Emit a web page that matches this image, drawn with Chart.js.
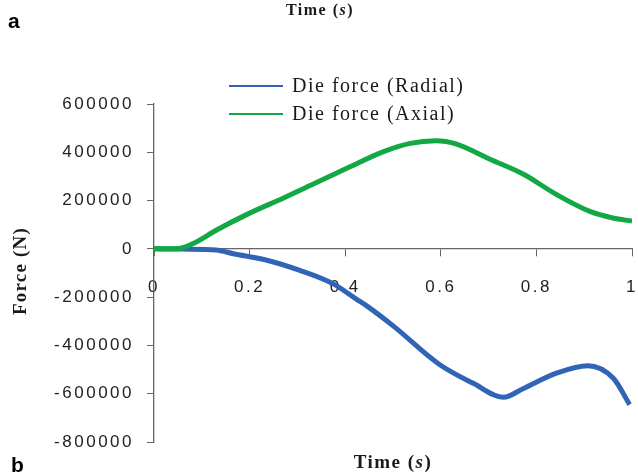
<!DOCTYPE html>
<html>
<head>
<meta charset="utf-8">
<script src="https://cdn.jsdelivr.net/npm/chart.js@4.4.0/dist/chart.umd.min.js"></script>
<style>
  html, body { margin: 0; padding: 0; background: #fff; }
</style>
</head>
<body>
<canvas id="forceChart" width="638" height="473"></canvas>
<script>
// values
const radialTime  = [0, 0.06, 0.13, 0.166, 0.236, 0.305, 0.375, 0.424, 0.445, 0.501, 0.598, 0.668, 0.731, 0.773, 0.842, 0.907, 0.961, 0.995];
const radialForce = [0, -1000, -5000, -20000, -47000, -89000, -145000, -209000, -236000, -320000, -480000, -557000, -615000, -578000, -515000, -484000, -536000, -645000];

const axialTime  = [0, 0.047, 0.082, 0.131, 0.2, 0.27, 0.34, 0.41, 0.479, 0.536, 0.59, 0.633, 0.703, 0.773, 0.842, 0.912, 0.96, 1.0];
const axialForce = [0, 0, 22000, 78000, 148000, 210000, 275000, 340000, 402000, 437000, 448000, 434000, 371000, 309000, 225000, 155000, 128000, 115000];

const seriesLabels = ["Die force (Radial)", "Die force (Axial)"];
const xTicks = [0, 0.2, 0.4, 0.6, 0.8, 1];
const yTicks = [-800000, -600000, -400000, -200000, 0, 200000, 400000, 600000];

const toPoints = (xs, ys) => xs.map((x, i) => ({ x: x, y: ys[i] }));

// draws the legend, axis titles and the panel letters
const extraText = {
  id: "extraText",
  beforeDraw(chart) {
    chart.ctx.letterSpacing = "2.5px";
  },
  afterDraw(chart) {
    const ctx = chart.ctx;
    ctx.save();
    ctx.fillStyle = "#1a1a1a";

    // legend
    const legendY = [86, 114];
    chart.data.datasets.forEach((ds, i) => {
      ctx.strokeStyle = ds.borderColor;
      ctx.lineWidth = 2;
      ctx.beginPath();
      ctx.moveTo(229, legendY[i]);
      ctx.lineTo(283, legendY[i]);
      ctx.stroke();
      ctx.font = "20px 'Liberation Serif'";
      ctx.letterSpacing = "1.5px";
      ctx.textAlign = "left";
      ctx.textBaseline = "middle";
      ctx.fillText(ds.label, 292, legendY[i] + 1);
    });

    // "Time (s)" with an italic s
    const timeTitle = (cx, base, size) => {
      const parts = [["Time (", "bold " + size + "px 'Liberation Serif'"],
                     ["s", "italic bold " + size + "px 'Liberation Serif'"],
                     [")", "bold " + size + "px 'Liberation Serif'"]];
      ctx.letterSpacing = "1.5px";
      ctx.textAlign = "left";
      ctx.textBaseline = "alphabetic";
      let total = 0;
      parts.forEach(p => { ctx.font = p[1]; total += ctx.measureText(p[0]).width; });
      let x = cx - total / 2;
      parts.forEach(p => { ctx.font = p[1]; ctx.fillText(p[0], x, base); x += ctx.measureText(p[0]).width; });
    };
    timeTitle(393, 468, 19);
    timeTitle(320, 15, 16);

    // y title
    ctx.save();
    ctx.translate(21, 271);
    ctx.rotate(-Math.PI / 2);
    ctx.font = "bold 19px 'Liberation Serif'";
    ctx.letterSpacing = "1.2px";
    ctx.textAlign = "center";
    ctx.textBaseline = "middle";
    ctx.fillText("Force (N)", 0, 0);
    ctx.restore();

    // panel letters
    ctx.letterSpacing = "0px";
    ctx.font = "bold 21px 'Liberation Sans'";
    ctx.textAlign = "left";
    ctx.textBaseline = "alphabetic";
    ctx.fillStyle = "#000";
    ctx.fillText("a", 8, 28);
    ctx.fillText("b", 11, 472);
    ctx.restore();
  }
};

const axisColor = "#666";
const tickFont = { family: "'Liberation Sans'", size: 17 };

new Chart(document.getElementById("forceChart"), {
  type: "line",
  data: {
    datasets: [
      {
        label: seriesLabels[0],
        data: toPoints(radialTime, radialForce),
        borderColor: "#3164b6",
        borderWidth: 5,
        pointRadius: 0,
        cubicInterpolationMode: "monotone",
        order: 1
      },
      {
        label: seriesLabels[1],
        data: toPoints(axialTime, axialForce),
        borderColor: "#12a844",
        borderWidth: 5,
        pointRadius: 0,
        cubicInterpolationMode: "monotone",
        order: 0
      }
    ]
  },
  options: {
    responsive: false,
    animation: false,
    layout: { padding: { left: 0, top: 104, right: 6, bottom: 31 } },
    plugins: {
      legend: { display: false },
      tooltip: { enabled: false }
    },
    scales: {
      x: {
        type: "linear",
        position: { y: 0 },
        min: xTicks[0],
        max: xTicks[xTicks.length - 1],
        afterBuildTicks: (s) => { s.ticks = xTicks.map(v => ({ value: v })); },
        afterFit: (s) => { s.paddingLeft = 0; s.paddingRight = 0; },
        ticks: {
          callback: (v) => String(v),
          font: tickFont,
          color: "#222",
          padding: 21,
          maxRotation: 0
        },
        grid: { drawOnChartArea: false, tickLength: 7, color: axisColor },
        border: { color: axisColor, width: 1.3 }
      },
      y: {
        min: yTicks[0],
        max: yTicks[yTicks.length - 1],
        afterBuildTicks: (s) => { s.ticks = yTicks.map(v => ({ value: v })); },
        afterFit: (s) => { s.width = 154; },
        ticks: {
          callback: (v) => String(v),
          font: tickFont,
          color: "#222",
          padding: 13
        },
        grid: { drawOnChartArea: false, tickLength: 7, color: axisColor },
        border: { color: axisColor, width: 1.3 }
      }
    }
  },
  plugins: [extraText]
});
</script>
</body>
</html>
